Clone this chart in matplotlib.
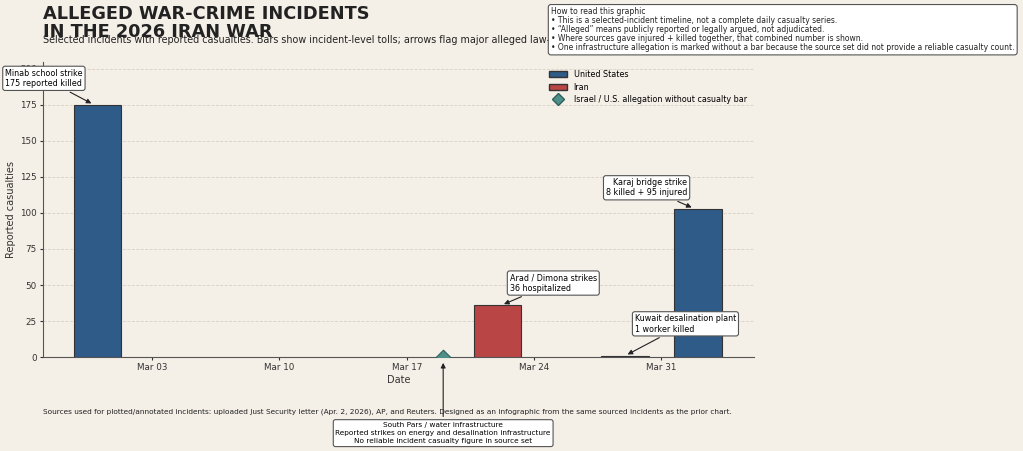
import matplotlib
matplotlib.use("Agg")
import matplotlib.pyplot as plt
import matplotlib.dates as mdates
from matplotlib.patches import Patch
from matplotlib.lines import Line2D
import datetime as dt

BG = "#f4efe7"
US_COL = "#2e5b88"
IR_COL = "#b94545"
ISR_COL = "#4f8f8a"

# incident data
dates = ["2026-02-28", "2026-03-22", "2026-03-29", "2026-04-02"]
values = [175, 36, 1, 103]
actors = ["United States", "Iran", "Iran", "United States"]
marker_date = "2026-03-19"

labels = ["Minab school strike\n175 reported killed",
          "Arad / Dimona strikes\n36 hospitalized",
          "Kuwait desalination plant\n1 worker killed",
          "Karaj bridge strike\n8 killed + 95 injured"]
marker_label = ("South Pars / water infrastructure\n"
                "Reported strikes on energy and desalination infrastructure\n"
                "No reliable incident casualty figure in source set")

x = [dt.datetime.strptime(d, "%Y-%m-%d") for d in dates]
xm = dt.datetime.strptime(marker_date, "%Y-%m-%d")
cols = [US_COL if a == "United States" else IR_COL for a in actors]

fig = plt.figure(figsize=(10.23, 4.51), dpi=100, facecolor=BG)
ax = fig.add_axes([0.042, 0.208, 0.695, 0.655])
ax.set_facecolor(BG)

ax.bar(x, values, width=2.6, color=cols, edgecolor="#333333", linewidth=0.8, zorder=3)
ax.scatter([xm], [0], marker="D", s=55, color=ISR_COL, edgecolor="#2f5f5b",
           linewidth=0.8, zorder=4)

ax.set_xlim(dt.datetime(2026, 2, 25), dt.datetime(2026, 4, 5, 2))
ax.set_ylim(0, max(values) * 1.17)
ax.xaxis.set_major_locator(mdates.WeekdayLocator(byweekday=mdates.TU))
ax.xaxis.set_major_formatter(mdates.DateFormatter("%b %d"))
ax.tick_params(labelsize=6.3, colors="#333333", length=2.5, pad=2)
ax.set_ylabel("Reported casualties", fontsize=7, color="#333333", labelpad=3)
ax.set_xlabel("Date", fontsize=7, color="#333333", labelpad=1.5)
ax.grid(axis="y", linestyle="--", color="#d8d2c5", linewidth=0.6, zorder=0)
for s in ["top", "right"]:
    ax.spines[s].set_visible(False)
for s in ["left", "bottom"]:
    ax.spines[s].set_color("#555555")

box = dict(boxstyle="round,pad=0.3", fc="white", ec="#555555", lw=0.8)
arr = dict(arrowstyle="-|>", color="#222222", lw=0.8, mutation_scale=7)

ax.annotate(labels[0], xy=(x[0] - dt.timedelta(days=0.2), values[0]),
            xytext=(-36, 12), textcoords="offset points", fontsize=5.8,
            ha="center", va="bottom", bbox=box, arrowprops=arr,
            annotation_clip=False)
ax.annotate(labels[1], xy=(x[1] + dt.timedelta(days=0.2), values[1]),
            xytext=(6, 9), textcoords="offset points", fontsize=5.8,
            ha="left", va="bottom", bbox=box, arrowprops=arr)
ax.annotate(labels[2], xy=(x[2], values[2]),
            xytext=(7, 16), textcoords="offset points", fontsize=5.8,
            ha="left", va="bottom", bbox=box, arrowprops=arr)
ax.annotate(labels[3], xy=(x[3] - dt.timedelta(days=0.2), values[3]),
            xytext=(-5, 8), textcoords="offset points", fontsize=5.8,
            ha="right", va="bottom", bbox=box, arrowprops=arr)
ax.annotate(marker_label, xy=(xm, -2), xytext=(0, -44.5), textcoords="offset points",
            fontsize=5.3, ha="center", va="top", bbox=box, arrowprops=arr,
            annotation_clip=False, linespacing=1.45)

handles = [Patch(facecolor=US_COL, edgecolor="#333333", label="United States"),
           Patch(facecolor=IR_COL, edgecolor="#333333", label="Iran"),
           Line2D([], [], marker="D", ls="none", markersize=6.5, color=ISR_COL,
                  markeredgecolor="#2f5f5b", label="Israel / U.S. allegation without casualty bar")]
ax.legend(handles=handles, loc="upper right", bbox_to_anchor=(1.0, 0.997), frameon=False,
          fontsize=5.8, handlelength=2.2, handleheight=0.75, labelspacing=0.45)

fig.text(0.042, 0.99, "ALLEGED WAR-CRIME INCIDENTS\nIN THE 2026 IRAN WAR",
         fontsize=12.8, fontweight="bold", color="#222222", va="top", ha="left",
         linespacing=1.0)
fig.text(0.042, 0.911, "Selected incidents with reported casualties. Bars show incident-level tolls; "
         "arrows flag major alleged law-of-war concerns.", fontsize=6.9, color="#222222",
         ha="left", va="center")
fig.text(0.5386, 0.984,
         "How to read this graphic\n"
         "\u2022 This is a selected-incident timeline, not a complete daily casualty series.\n"
         "\u2022 \u201cAlleged\u201d means publicly reported or legally argued, not adjudicated.\n"
         "\u2022 Where sources gave injured + killed together, that combined number is shown.\n"
         "\u2022 One infrastructure allegation is marked without a bar because the source set did not provide a reliable casualty count.",
         fontsize=5.52, color="#222222", ha="left", va="top", linespacing=1.0,
         bbox=dict(boxstyle="round,pad=0.35", fc="white", ec="#555555", lw=0.8), zorder=10)
fig.text(0.042, 0.087, "Sources used for plotted/annotated incidents: uploaded Just Security letter "
         "(Apr. 2, 2026), AP, and Reuters. Designed as an infographic from the same sourced "
         "incidents as the prior chart.", fontsize=5.33, color="#222222", ha="left", va="center")

fig.savefig("out.png", dpi=100, facecolor=BG)
